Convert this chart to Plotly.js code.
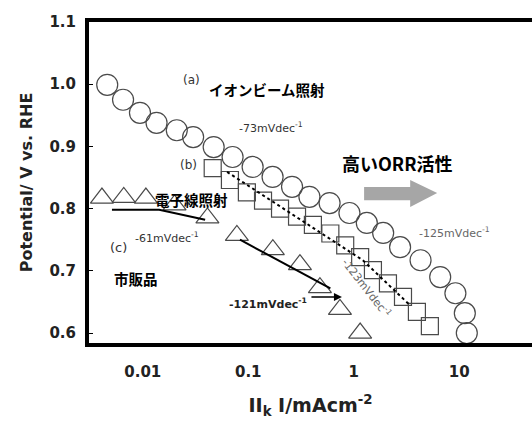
<!DOCTYPE html>
<html>
<head>
<meta charset="utf-8">
<script src="https://cdn.plot.ly/plotly-3.0.1.min.js"></script>
<style>html,body{margin:0;padding:0;background:#fff;}#chart{width:532px;height:426px;}</style>
</head>
<body>
<div id="chart"></div>
<script>
// (a) イオンビーム照射 — circles
const seriesA_x = [0.0046, 0.0065, 0.0094, 0.0135, 0.021, 0.030, 0.047, 0.071, 0.11, 0.17, 0.26, 0.38, 0.59, 0.91, 1.33, 1.9, 2.75, 4.3, 6.6, 9.2, 11.3, 11.8];
const seriesA_y = [0.999, 0.975, 0.954, 0.938, 0.926, 0.915, 0.899, 0.883, 0.867, 0.851, 0.835, 0.819, 0.809, 0.793, 0.777, 0.761, 0.738, 0.717, 0.690, 0.664, 0.632, 0.600];
// (b) 電子線照射 — squares
const seriesB_x = [0.046, 0.067, 0.097, 0.138, 0.20, 0.29, 0.41, 0.60, 0.83, 1.15, 1.52, 2.11, 2.93, 3.97, 5.27];
const seriesB_y = [0.865, 0.846, 0.826, 0.813, 0.800, 0.787, 0.774, 0.760, 0.741, 0.722, 0.701, 0.680, 0.658, 0.634, 0.611];
// (c) 市販品 — triangles
const seriesC_x = [0.0041, 0.0066, 0.0107, 0.020, 0.041, 0.078, 0.171, 0.309, 0.478, 0.74, 1.15];
const seriesC_y = [0.817, 0.818, 0.817, 0.806, 0.785, 0.757, 0.734, 0.710, 0.673, 0.638, 0.600];
// Tafel fit lines
const tafelB_x = [0.063, 1.22, 3.4];
const tafelB_y = [0.859, 0.717, 0.645];
const tafelC1_x = [0.0051, 0.0143, 0.039];
const tafelC1_y = [0.798, 0.798, 0.782];
const tafelC2_x = [0.0834, 0.60];
const tafelC2_y = [0.750, 0.672];
// Axis ticks
const xTickVals = [0.01, 0.1, 1, 10];
const xTickText = ['0.01', '0.1', '1', '10'];
const yTickVals = [0.6, 0.7, 0.8, 0.9, 1.0, 1.1];
const yTickText = ['0.6', '0.7', '0.8', '0.9', '1.0', '1.1'];

const mkLine = '#4a4a4a';
const traces = [
  {x: seriesA_x, y: seriesA_y, type: 'scatter', mode: 'markers', name: '(a)',
   marker: {symbol: 'circle-open', size: 21, color: mkLine, line: {width: 1.2, color: mkLine}}},
  {x: seriesB_x, y: seriesB_y, type: 'scatter', mode: 'markers', name: '(b)',
   marker: {symbol: 'square-open', size: 17, color: mkLine, line: {width: 1.2, color: mkLine}}},
  {x: seriesC_x, y: seriesC_y, type: 'scatter', mode: 'markers', name: '(c)',
   marker: {symbol: 'triangle-up-open', size: 20, color: mkLine, line: {width: 1.2, color: mkLine}}},
  {x: tafelB_x, y: tafelB_y, type: 'scatter', mode: 'lines', line: {color: '#000', width: 2, dash: 'dot'}},
  {x: tafelC1_x, y: tafelC1_y, type: 'scatter', mode: 'lines', line: {color: '#000', width: 2}},
  {x: tafelC2_x, y: tafelC2_y, type: 'scatter', mode: 'lines', line: {color: '#000', width: 2}}
];

const cjk = '"Noto Sans CJK JP", "DejaVu Sans", sans-serif';
const lat = '"DejaVu Sans", sans-serif';
function ann(text, lx, y, size, opts) {
  return Object.assign({xref: 'x', yref: 'y', x: lx, y: y, text: text, showarrow: false,
    font: {family: cjk, size: size, color: '#000', weight: 'bold'}}, opts || {});
}
const annotations = [
  ann('(a)', -1.543, 1.007, 12, {font: {family: lat, size: 12, color: '#333'}}),
  ann('イオンビーム照射', -0.823, 0.992, 14.5),
  ann('-73mVdec<sup>-1</sup>', -0.785, 0.930, 11, {font: {family: lat, size: 11, color: '#333'}}),
  ann('(b)', -1.562, 0.870, 12, {font: {family: lat, size: 12, color: '#333'}}),
  ann('高いORR活性', 0.409, 0.873, 18),
  ann('電子線照射', -1.534, 0.814, 14.5),
  ann('-61mVdec<sup>-1</sup>', -1.77, 0.754, 11, {font: {family: lat, size: 11, color: '#333'}}),
  ann('(c)', -2.235, 0.737, 13, {font: {family: lat, size: 13, color: '#333'}}),
  ann('市販品', -2.065, 0.688, 14.5),
  ann('-121mVdec<sup>-1</sup>', -0.813, 0.648, 11, {font: {family: lat, size: 11, color: '#222', weight: 'bold'}}),
  ann('-125mVdec<sup>-1</sup>', 0.959, 0.761, 11, {font: {family: lat, size: 11, color: '#666'}}),
  ann('-123mVdec<sup>-1</sup>', 0.125, 0.672, 11, {textangle: 52, font: {family: lat, size: 11, color: '#666'}}),
  {xref: 'x', yref: 'y', x: -0.112, y: 0.658, ax: -32, ay: 0, text: '', showarrow: true,
   arrowhead: 2, arrowsize: 1, arrowwidth: 1.6, arrowcolor: '#000'}
];

const layout = {
  width: 532, height: 426,
  margin: {l: 89, r: 0, t: 22, b: 83},
  paper_bgcolor: '#fff', plot_bgcolor: '#fff',
  showlegend: false,
  xaxis: {type: 'log', range: [-2.51, 1.69], tickvals: xTickVals, ticktext: xTickText,
    showgrid: false, zeroline: false, showline: true, linecolor: '#000', linewidth: 4, mirror: true,
    ticks: '', ticklabelstandoff: 12,
    tickfont: {family: lat, size: 15, color: '#222', weight: 'bold'},
    title: {text: 'II<sub>k</sub> I/mAcm<sup>-2</sup>', standoff: 20,
      font: {family: lat, size: 19, color: '#222', weight: 'bold'}}},
  yaxis: {range: [0.584, 1.1], tickvals: yTickVals, ticktext: yTickText,
    showgrid: false, zeroline: false, showline: true, linecolor: '#000', linewidth: 4, mirror: false,
    ticks: 'inside', ticklen: 4, tickwidth: 1, tickcolor: '#000', ticklabelstandoff: 6,
    tickfont: {family: lat, size: 15, color: '#222', weight: 'bold'},
    title: {text: 'Potential/ V vs. RHE', standoff: 14,
      font: {family: lat, size: 16, color: '#222', weight: 'bold'}}},
  shapes: [
    {type: 'path', xref: 'paper', yref: 'paper',
     path: 'M 0.621 0.486 L 0.725 0.486 L 0.725 0.508 L 0.786 0.467 L 0.725 0.424 L 0.725 0.445 L 0.621 0.445 Z',
     fillcolor: '#a6a6a6', line: {width: 0}}
  ],
  annotations: annotations
};

Plotly.newPlot('chart', traces, layout, {staticPlot: true, displayModeBar: false});
</script>
</body>
</html>
